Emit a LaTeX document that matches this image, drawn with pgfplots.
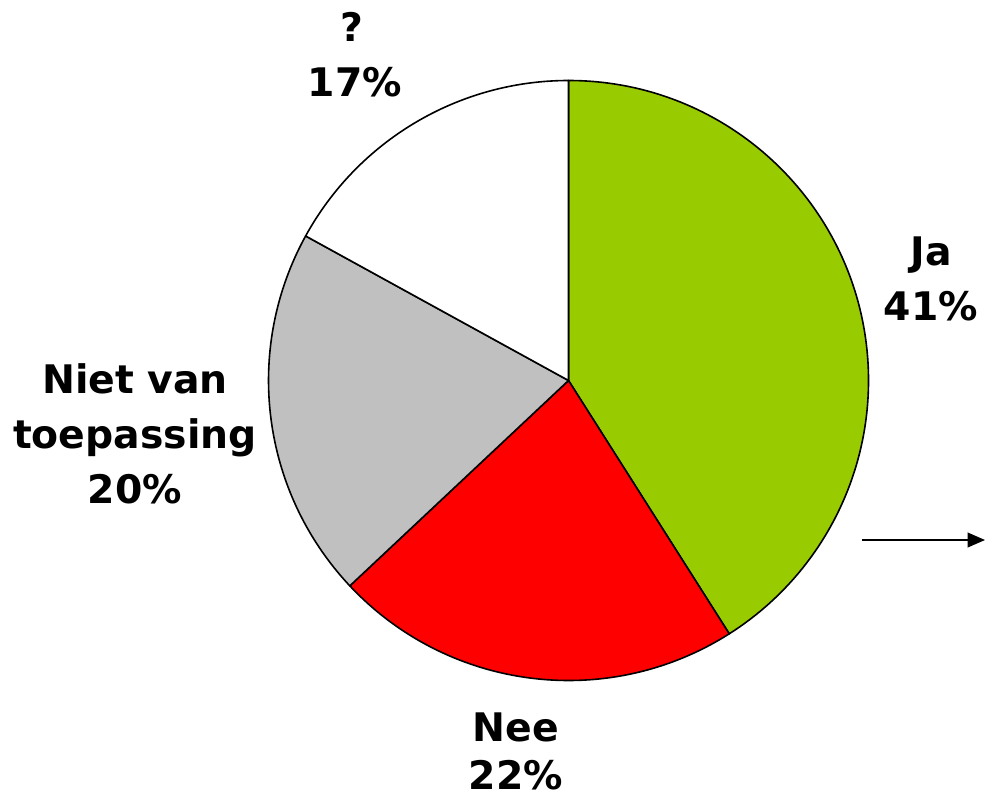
\documentclass[border=0pt]{standalone}
\usepackage{pgfplots}
\pgfplotsset{compat=1.18}
\usepackage{fontspec}
\setmainfont{DejaVu Sans}
\usetikzlibrary{arrows.meta}
\definecolor{pieGreen}{HTML}{99CC00}
\definecolor{pieRed}{HTML}{FF0000}
\definecolor{pieGrey}{HTML}{C0C0C0}
\begin{document}
\begin{tikzpicture}
\begin{axis}[
  width=740.25pt, height=599.25pt, scale only axis,
  xmin=0, xmax=987, ymin=0, ymax=799, y dir=reverse,
  hide axis, clip=false,
]
% shares in percent, clockwise from 12 o'clock: Ja, Nee, Niet van toepassing, ?
\def\cum{90}
\foreach \v/\c in {41/pieGreen,22/pieRed,20/pieGrey,17/white}{
  \pgfmathsetmacro\e{\cum-3.6*\v}
  \edef\tmp{\noexpand\filldraw[fill=\c,draw=black,line width=1.2pt,line join=round]
    (axis cs:568.5,380.5) -- ++(\cum:225pt) arc[start angle=\cum,end angle=\e,radius=225pt] -- cycle;}
  \tmp
  \xdef\cum{\e}
}
\tikzset{lab/.style={anchor=base,font=\fontsize{29.5pt}{34pt}\selectfont\bfseries,inner sep=0pt}}
\node[lab] at (axis cs:352,42) {?};
\node[lab] at (axis cs:355,96) {17\%};
\node[lab] at (axis cs:931,265) {Ja};
\node[lab] at (axis cs:931,320) {41\%};
\node[lab] at (axis cs:135,393) {Niet van};
\node[lab] at (axis cs:135,448) {toepassing};
\node[lab] at (axis cs:135,503) {20\%};
\node[lab] at (axis cs:516,741) {Nee};
\node[lab] at (axis cs:516,789) {22\%};
\draw[line width=1.2pt,-{Triangle[length=13pt,width=11pt]}] (axis cs:862,540) -- (axis cs:985,540);
\end{axis}
\pgfresetboundingbox
\path (current axis.south west) rectangle (current axis.north east);
\end{tikzpicture}
\end{document}
